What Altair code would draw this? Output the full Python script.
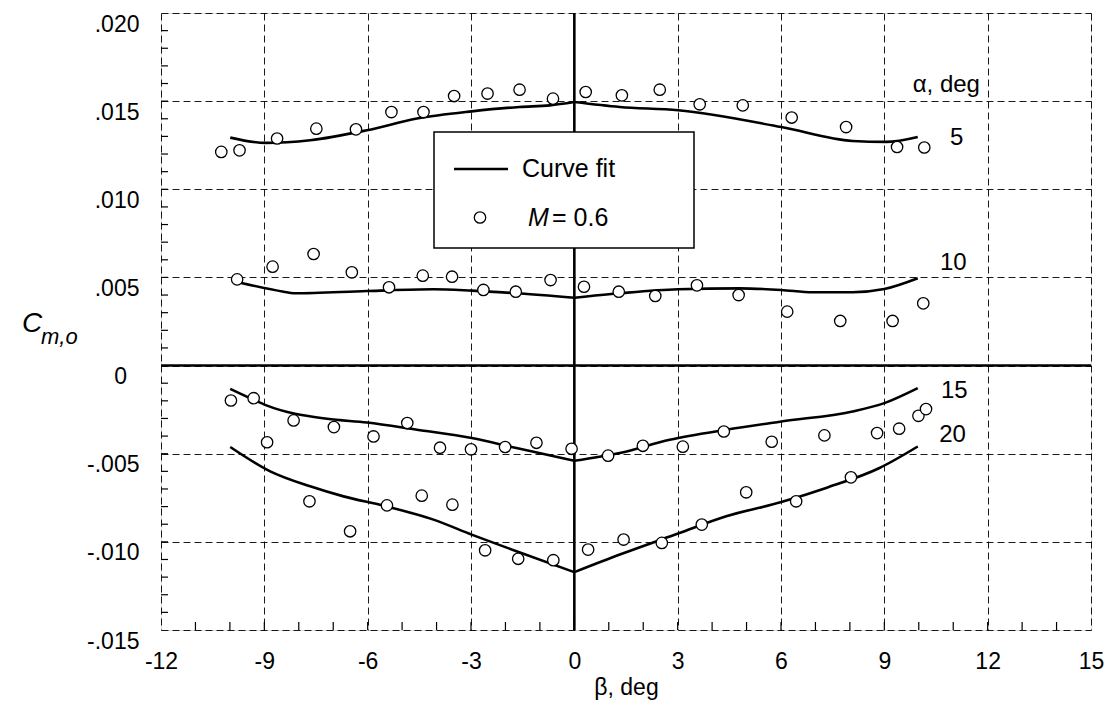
import json
import altair as alt
import pandas as pd

FONT = "Liberation Sans"

# ---------------- data ----------------
# measured points (circles), all at M = 0.6
pts5_beta = [-10.25, -9.72, -8.63, -7.49, -6.34, -5.31, -4.38, -3.49, -2.52, -1.59, -0.62, 0.33, 1.38, 2.48, 3.64, 4.89, 6.31, 7.89, 9.37, 10.16]
pts5_cm = [0.01212, 0.01221, 0.01288, 0.01344, 0.01340, 0.01438, 0.01438, 0.01529, 0.01543, 0.01565, 0.01514, 0.01552, 0.01533, 0.01565, 0.01482, 0.01476, 0.01407, 0.01353, 0.01240, 0.01237]

pts10_beta = [-9.79, -8.76, -7.57, -6.46, -5.38, -4.40, -3.55, -2.64, -1.70, -0.69, 0.28, 1.29, 2.35, 3.56, 4.77, 6.18, 7.72, 9.24, 10.13]
pts10_cm = [0.00489, 0.00561, 0.00633, 0.00529, 0.00444, 0.00510, 0.00504, 0.00429, 0.00419, 0.00485, 0.00447, 0.00419, 0.00395, 0.00455, 0.00400, 0.00306, 0.00253, 0.00253, 0.00353]

pts15_beta = [-9.97, -9.31, -8.92, -8.15, -6.98, -5.83, -4.85, -3.90, -3.00, -2.01, -1.10, -0.08, 0.98, 1.99, 3.15, 4.34, 5.73, 7.26, 8.79, 9.43, 9.99, 10.21]
pts15_cm = [-0.00198, -0.00185, -0.00435, -0.00311, -0.00349, -0.00402, -0.00326, -0.00466, -0.00475, -0.00462, -0.00438, -0.00472, -0.00511, -0.00455, -0.00460, -0.00374, -0.00432, -0.00396, -0.00383, -0.00358, -0.00285, -0.00247]

pts20_beta = [-7.69, -6.51, -5.44, -4.43, -3.54, -2.59, -1.63, -0.61, 0.40, 1.43, 2.54, 3.70, 4.99, 6.44, 8.03]
pts20_cm = [-0.00770, -0.00940, -0.00793, -0.00738, -0.00789, -0.01048, -0.01096, -0.01104, -0.01044, -0.00987, -0.01006, -0.00902, -0.00719, -0.00770, -0.00634]

# curve fits
fit5_beta = [-9.99, -8.97, -7.67, -6.02, -4.57, -2.98, -1.59, -0.71, 0.0, 1.32, 3.01, 6.01, 8.08, 9.05, 9.97]
fit5_cm = [0.01293, 0.01263, 0.01278, 0.01335, 0.01401, 0.01442, 0.01467, 0.01476, 0.01495, 0.01467, 0.01448, 0.01353, 0.01274, 0.01269, 0.01297]

fit10_beta = [-9.70, -8.44, -8.15, -6.02, -4.09, -2.98, -1.68, 0.0, 1.32, 3.01, 4.80, 6.01, 6.92, 8.08, 9.00, 9.97]
fit10_cm = [0.00470, 0.00419, 0.00410, 0.00423, 0.00433, 0.00425, 0.00410, 0.00385, 0.00410, 0.00433, 0.00438, 0.00429, 0.00416, 0.00416, 0.00434, 0.00495]

fit15_beta = [-9.99, -9.31, -8.92, -7.18, -6.02, -4.57, -2.98, -1.68, 0.0, 1.32, 2.77, 4.41, 6.01, 8.08, 9.00, 9.97]
fit15_cm = [-0.00132, -0.00194, -0.00227, -0.00302, -0.00323, -0.00364, -0.00411, -0.00468, -0.00540, -0.00496, -0.00421, -0.00364, -0.00317, -0.00260, -0.00213, -0.00128]

fit20_beta = [-9.99, -8.83, -7.67, -6.70, -5.54, -4.09, -2.98, -1.68, 0.0, 1.32, 3.01, 4.41, 6.01, 7.31, 8.86, 9.97]
fit20_cm = [-0.00462, -0.00600, -0.00685, -0.00742, -0.00795, -0.00874, -0.00959, -0.01053, -0.01172, -0.01072, -0.00953, -0.00855, -0.00774, -0.00694, -0.00581, -0.00459]

# curve labels
lab_text = ["\u03b1, deg", "5", "10", "15", "20"]
lab_beta = [10.80, 11.10, 11.00, 11.03, 10.98]
lab_cm = [0.01590, 0.01289, 0.00582, -0.00147, -0.00392]

# axes
xtick_vals = [-12, -9, -6, -3, 0, 3, 6, 9, 12, 15]
xtick_labels = ["-12", "-9", "-6", "-3", "0", "3", "6", "9", "12", "15"]
ytick_vals = [-0.015, -0.010, -0.005, 0.0, 0.005, 0.010, 0.015, 0.020]
ytick_labels = ["-.015", "-.010", "-.005", "0", ".005", ".010", ".015", ".020"]
xminor = list(range(-11, 15))
yminor = [round(-0.015 + 0.001 * i, 3) for i in range(1, 35)]
zero_line = [0.0]

# ---------------- build tables ----------------
def pts_df(beta, cm, a):
    return pd.DataFrame({"beta": beta, "cm": cm, "alpha": a})

def fit_df(beta, cm, a):
    d = pd.DataFrame({"beta": beta, "cm": cm})
    left = d[d.beta <= 0].assign(seg=f"{a}L")
    right = d[d.beta >= 0].assign(seg=f"{a}R")
    return pd.concat([left, right])

points = pd.concat([pts_df(pts5_beta, pts5_cm, 5), pts_df(pts10_beta, pts10_cm, 10),
                    pts_df(pts15_beta, pts15_cm, 15), pts_df(pts20_beta, pts20_cm, 20)])
fits = pd.concat([fit_df(fit5_beta, fit5_cm, 5), fit_df(fit10_beta, fit10_cm, 10),
                  fit_df(fit15_beta, fit15_cm, 15), fit_df(fit20_beta, fit20_cm, 20)])
labels = pd.DataFrame({"beta": lab_beta, "cm": lab_cm, "text": lab_text})

W, H = 930, 617
xs = alt.Scale(domain=[-12, 15], nice=False, zero=False)
ys = alt.Scale(domain=[-0.015, 0.020], nice=False, zero=False)

# the "0" label of the y axis sits left of the others: it is drawn as its own text below
y_axis_labels = [("" if v == 0 else t) for v, t in zip(ytick_vals, ytick_labels)]
x_expr = json.dumps(xtick_labels, ensure_ascii=False) + "[round((datum.value + 12) / 3)]"
y_expr = json.dumps(y_axis_labels, ensure_ascii=False) + "[round((datum.value + 0.015) / 0.005)]"

x_axis = alt.Axis(values=xtick_vals, labelExpr=x_expr, grid=True, gridDash=[7, 4], gridColor="#000",
                  gridWidth=0.9, ticks=False, domain=False, labelFont=FONT, labelFontSize=23,
                  labelColor="#000", labelPadding=20, labelFlush=False, title="\u03b2, deg",
                  titleFont=FONT, titleFontSize=23, titleFontWeight="normal", titleColor="#000",
                  titlePadding=3)
y_axis = alt.Axis(values=ytick_vals, labelExpr=y_expr, grid=True, gridDash=[7, 4], gridColor="#000",
                  gridWidth=0.9, ticks=False, domain=False, labelFont=FONT, labelFontSize=23,
                  labelColor="#000", labelPadding=22, labelFlush=False, labelBaseline="top",
                  title=None)

def X(f):
    return alt.X(f, scale=xs, axis=x_axis)

def Y(f):
    return alt.Y(f, scale=ys, axis=y_axis)

one = pd.DataFrame({"k": [0]})

curves = alt.Chart(fits).mark_line(color="#000", strokeWidth=2.6, interpolate="monotone").encode(
    x=X("beta:Q"), y=Y("cm:Q"), detail="seg:N")

zx = alt.Chart(pd.DataFrame({"beta": zero_line})).mark_rule(color="#000", strokeWidth=2.6).encode(
    x=X("beta:Q"))
zy = alt.Chart(pd.DataFrame({"cm": zero_line})).mark_rule(color="#000", strokeWidth=2.6).encode(
    y=Y("cm:Q"))

zero_lbl = alt.Chart(pd.DataFrame({"cm": zero_line, "t": [ytick_labels[3]]})).mark_text(
    font=FONT, fontSize=23, color="#000", align="right", baseline="top").encode(
    y=Y("cm:Q"), x=alt.value(-34), text="t:N")

xt = alt.Chart(pd.DataFrame({"beta": xminor})).mark_rule(color="#000", strokeWidth=1.2).encode(
    x=X("beta:Q"), y=alt.value(H), y2=alt.value(H - 8))
yt = alt.Chart(pd.DataFrame({"cm": yminor})).mark_rule(color="#000", strokeWidth=1.2).encode(
    y=Y("cm:Q"), x=alt.value(0), x2=alt.value(7))

pts = alt.Chart(points).mark_point(shape="circle", filled=True, fill="white", stroke="#000",
                                   strokeWidth=1.3, size=130, opacity=1).encode(
    x=X("beta:Q"), y=Y("cm:Q"))

lbl = alt.Chart(labels).mark_text(font=FONT, fontSize=24, color="#000", align="center",
                                  baseline="middle").encode(
    x=X("beta:Q"), y=Y("cm:Q"), text="text:N")

# legend (drawn by hand)
leg_box = alt.Chart(one).mark_rect(fill="white", stroke="#000", strokeWidth=1.5).encode(
    x=alt.value(273), x2=alt.value(533), y=alt.value(119), y2=alt.value(235))
leg_line = alt.Chart(one).mark_rule(color="#000", strokeWidth=2.6).encode(
    x=alt.value(293), x2=alt.value(347), y=alt.value(156))
leg_t1 = alt.Chart(one).mark_text(text="Curve fit", font=FONT, fontSize=25, color="#000",
                                  align="left", baseline="middle").encode(x=alt.value(361), y=alt.value(156))
leg_pt = alt.Chart(one).mark_point(shape="circle", filled=True, fill="white", stroke="#000",
                                   strokeWidth=1.3, size=130, opacity=1).encode(x=alt.value(319), y=alt.value(204.5))
leg_m = alt.Chart(one).mark_text(text="M", font=FONT, fontSize=25, fontStyle="italic", color="#000",
                                 align="left", baseline="middle").encode(x=alt.value(367), y=alt.value(204.5))
leg_t2 = alt.Chart(one).mark_text(text="= 0.6", font=FONT, fontSize=25, color="#000",
                                  align="left", baseline="middle").encode(x=alt.value(391), y=alt.value(204.5))

# y-axis title C_{m,o}
yt_c = alt.Chart(one).mark_text(text="C", font=FONT, fontSize=28, fontStyle="italic", color="#000",
                                align="left", baseline="alphabetic").encode(x=alt.value(-139), y=alt.value(319))
yt_s = alt.Chart(one).mark_text(text="m,o", font=FONT, fontSize=22, fontStyle="italic", color="#000",
                                align="left", baseline="alphabetic").encode(x=alt.value(-120), y=alt.value(331))

chart = alt.layer(
    curves, zx, zy, xt, yt, pts, leg_box, leg_line, leg_t1, leg_pt, leg_m, leg_t2, lbl,
    zero_lbl, yt_c, yt_s
).properties(
    width=W, height=H, autosize="none",
    padding={"left": 153, "top": 5, "right": 20, "bottom": 78},
).configure_view(stroke="#000", strokeWidth=1.5).configure(background="white")

chart.save("out.html", embed_options={"renderer": "svg", "actions": False})
